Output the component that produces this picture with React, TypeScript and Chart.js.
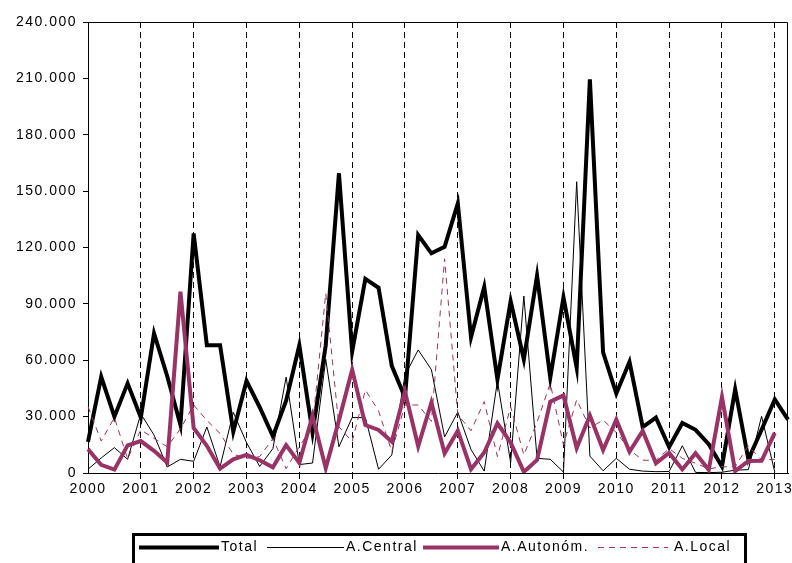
import React, { useEffect, useRef } from 'react';
import { Chart, registerables } from 'chart.js';

Chart.register(...registerables);

const years = ['2000', '2001', '2002', '2003', '2004', '2005', '2006', '2007', '2008', '2009', '2010', '2011', '2012', '2013'];
const quarters = ['T1', 'T2', 'T3', 'T4'];
const categories = years.flatMap((y) => quarters.map((q) => `${q} ${y}`)).slice(0, 54);

const total = [
  16600, 51200, 30000, 47700, 29500, 74300, 51500, 25500,
  127500, 68000, 68000, 22000, 49000, 35000, 19500, 38500,
  68000, 21500, 68000, 159500, 64600, 103300, 98600, 57000,
  40200, 126600, 116900, 120400, 143500, 72200, 99000, 49800,
  91500, 60500, 105000, 50700, 93500, 56000, 209500, 64200,
  42300, 59200, 24400, 29500, 13800, 26600, 23000, 15300,
  3400, 44500, 7300, 23000, 39200, 28400,
];
const central = [
  2000, 8000, 13500, 7300, 31500, 20200, 3200, 7300,
  6200, 24500, 3300, 32300, 16200, 3500, 13000, 51000,
  4500, 5300, 60500, 14000, 29500, 29500, 2000, 9600,
  52000, 65500, 55000, 19200, 32400, 12500, 1000, 49000,
  5500, 94200, 7800, 7300, 500, 155000, 9000, 1200,
  7800, 2000, 1000, 700, 800, 14500, 300, 200,
  400, 1500, 1800, 30200, 500, null,
];
const autonom = [
  12700, 4300, 1800, 14700, 17000, 11800, 5600, 96500,
  24000, 14500, 2300, 7300, 9600, 6800, 3000, 14900,
  5400, 30500, 2600, 28000, 55000, 25500, 22900, 16700,
  43300, 14200, 37500, 10500, 22500, 2000, 10900, 26400,
  16200, 600, 6900, 38000, 41300, 13300, 30600, 12200,
  28400, 11300, 22400, 5200, 10700, 1900, 10500, 1700,
  40400, 1000, 6400, 6500, 21400, null,
];
const local = [
  35300, 17000, 29500, 7500, 23000, 18400, 14000, 23500,
  36200, 28000, 21000, 10000, 7800, 8700, 18400, 2300,
  14000, 25000, 95600, 24600, 16700, 44200, 33000, 11500,
  36200, 36200, 27500, 114000, 31000, 22500, 38000, 8700,
  35300, 9600, 27000, 47700, 15000, 39000, 24000, 28200,
  21500, 12500, 6800, 6700, 13000, 7800, 5200, 2200,
  3300, 3400, 14500, 6900, 7300, null,
];
const seriesNames = ['Total', 'A.Central', 'A.Autonóm.', 'A.Local'];

const MAGENTA = '#993366';
const FONT = "'Liberation Sans', Arial, sans-serif";
const SPACING = '1.5px';

function fmt(v: number): string {
  const s = Math.round(v).toString();
  return s.replace(/\B(?=(\d{3})+(?!\d))/g, '.');
}

const spacingPlugin = {
  id: 'spacing',
  beforeUpdate(chart: any) {
    try { chart.ctx.letterSpacing = SPACING; } catch (e) {}
  },
  beforeDraw(chart: any) {
    try { chart.ctx.letterSpacing = SPACING; } catch (e) {}
  },
};

const framePlugin = {
  id: 'frame',
  afterDatasetsDraw(chart: any) {
    const { ctx, chartArea } = chart;
    ctx.save();
    ctx.strokeStyle = '#000';
    ctx.lineWidth = 1;
    ctx.setLineDash([]);
    ctx.beginPath();
    ctx.moveTo(Math.round(chartArea.left) + 0.5, Math.round(chartArea.top) + 0.5);
    ctx.lineTo(Math.round(chartArea.right) - 0.5, Math.round(chartArea.top) + 0.5);
    ctx.lineTo(Math.round(chartArea.right) - 0.5, Math.round(chartArea.bottom));
    ctx.stroke();
    ctx.restore();
  },
};

const legendItems = [
  { x1: 139, x2: 219, tx: 221 },
  { x1: 267, x2: 344, tx: 346 },
  { x1: 423, x2: 499, tx: 501 },
  { x1: 598, x2: 668, tx: 674 },
];

const legendPlugin = {
  id: 'boxLegend',
  afterDraw(chart: any) {
    const ctx = chart.ctx;
    ctx.save();
    ctx.setLineDash([]);
    ctx.lineWidth = 3;
    ctx.strokeStyle = '#000';
    ctx.strokeRect(133.5, 534.5, 612, 40);
    const y = 547.5;
    ctx.font = `14px ${FONT}`;
    ctx.fillStyle = '#000';
    ctx.textBaseline = 'middle';
    ctx.textAlign = 'left';
    chart.data.datasets.forEach((ds: any, i: number) => {
      const it = legendItems[i];
      ctx.save();
      ctx.lineWidth = ds.borderWidth;
      ctx.strokeStyle = ds.borderColor;
      ctx.setLineDash(ds.borderDash || []);
      ctx.beginPath();
      ctx.moveTo(it.x1, y);
      ctx.lineTo(it.x2, y);
      ctx.stroke();
      ctx.restore();
      ctx.fillText(ds.label, it.tx, y);
    });
    ctx.restore();
  },
};

export default function App() {
  const ref = useRef<HTMLCanvasElement | null>(null);

  useEffect(() => {
    if (!ref.current) return;
    const chart = new Chart(ref.current, {
      type: 'line',
      data: {
        labels: categories,
        datasets: [
          { label: seriesNames[0], data: total, borderColor: '#000', borderWidth: 4, order: 4 },
          { label: seriesNames[1], data: central, borderColor: '#000', borderWidth: 1, order: 3 },
          { label: seriesNames[2], data: autonom, borderColor: MAGENTA, borderWidth: 4, order: 2 },
          { label: seriesNames[3], data: local, borderColor: MAGENTA, borderWidth: 1, borderDash: [6, 5], order: 1 },
        ] as any,
      },
      options: {
        animation: false,
        responsive: false,
        devicePixelRatio: 1,
        layout: { padding: { left: 0, top: 22, right: 4, bottom: 0 } },
        elements: {
          point: { radius: 0 },
          line: { tension: 0, fill: false, borderCapStyle: 'butt', borderJoinStyle: 'miter' },
        },
        plugins: { legend: { display: false }, tooltip: { enabled: false } },
        scales: {
          x: {
            type: 'category',
            offset: false,
            grid: {
              display: true,
              drawOnChartArea: true,
              drawTicks: true,
              tickLength: 6,
              lineWidth: 1,
              color: (c: any) => (c.index % 4 === 0 && c.index > 0 ? '#000' : 'rgba(0,0,0,0)'),
            },
            border: { display: true, color: '#000', width: 1, dash: [6, 4] },
            ticks: {
              autoSkip: false,
              maxRotation: 0,
              minRotation: 0,
              padding: 2,
              color: '#000',
              font: { family: FONT, size: 14 },
              callback: (_v: any, i: number) => (i % 4 === 0 ? years[i / 4] : ''),
            },
            afterFit: (s: any) => { s.height = 90; },
          },
          y: {
            min: 0,
            max: 240000,
            grid: { display: true, drawOnChartArea: false, drawTicks: true, tickLength: 5, color: '#000' },
            border: { display: true, color: '#000', width: 1 },
            ticks: {
              stepSize: 30000,
              padding: 6,
              color: '#000',
              font: { family: FONT, size: 14 },
              callback: (v: any) => fmt(Number(v)),
            },
            afterFit: (s: any) => { s.width = 88; },
          },
        },
      },
      plugins: [spacingPlugin, framePlugin, legendPlugin],
    });
    return () => chart.destroy();
  }, []);

  return (
    <div style={{ position: 'fixed', left: 0, top: 0, width: 792, height: 563, background: '#fff' }}>
      <canvas ref={ref} width={792} height={563} style={{ display: 'block', width: 792, height: 563 }} />
    </div>
  );
}
